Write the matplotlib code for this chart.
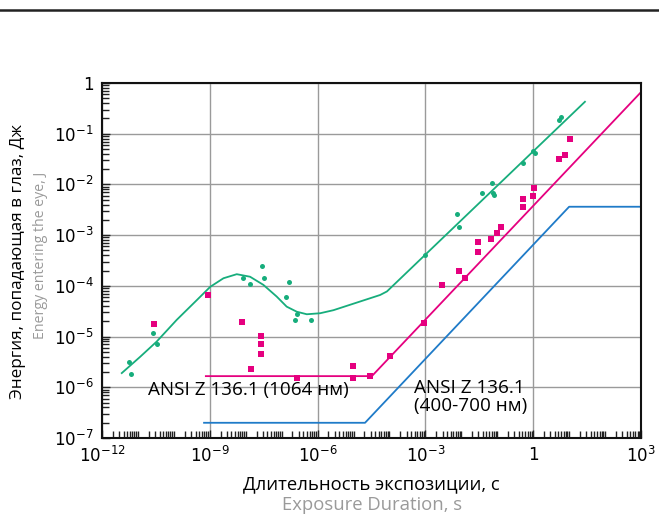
import numpy as np
import matplotlib
matplotlib.use('Agg')
import matplotlib.pyplot as plt
from matplotlib.ticker import FixedLocator, FuncFormatter, NullFormatter
from matplotlib.lines import Line2D

# all values stored as log10 exponents (x: exposure, s; y: energy, J)
green_curve_x = [-11.45, -10.94, -10.48, -9.92, -9.36, -8.99, -8.62, -8.25, -7.88, -7.51,
                 -7.14, -6.86, -6.58, -6.30, -5.93, -5.56, -4.91, -4.26, -4.07, 1.44]
green_curve_y = [-5.72, -5.40, -5.10, -4.67, -4.28, -4.02, -3.85, -3.77, -3.82, -3.98,
                 -4.21, -4.41, -4.51, -4.56, -4.54, -4.48, -4.33, -4.18, -4.11, -0.37]

ansi_1064_x = [-9.11, -4.49, 3.0]
ansi_1064_y = [-5.78, -5.78, -0.18]

ansi_vis_x = [-9.16, -4.68, 1.0, 3.0]
ansi_vis_y = [-6.70, -6.70, -2.44, -2.44]

green_pts_x = [-11.25, -11.19, -10.57, -10.48, -8.07, -7.87, -7.56, -7.50, -6.80, -6.89,
               -6.58, -6.62, -6.19, -3.01, -2.11, -2.06, -1.42, -1.15, -1.13, -1.09,
               -0.27, -0.01, 0.04, 0.72, 0.76]
green_pts_y = [-5.50, -5.73, -4.92, -5.15, -3.84, -3.97, -3.60, -3.84, -3.92, -4.22,
               -4.56, -4.67, -4.67, -3.39, -2.59, -2.83, -2.16, -1.97, -2.16, -2.21,
               -1.58, -1.35, -1.39, -0.72, -0.68]

pink_pts_x = [-10.54, -9.04, -8.10, -7.57, -7.57, -7.57, -7.84, -6.56, -5.01, -5.01,
              -4.54, -3.98, -3.03, -2.53, -2.06, -1.89, -1.53, -1.53, -1.17, -1.00,
              -0.89, -0.27, -0.27, 0.00, 0.03, 0.73, 0.89, 1.03]
pink_pts_y = [-4.76, -4.18, -4.72, -4.98, -5.15, -5.35, -5.63, -5.82, -5.59, -5.82,
              -5.78, -5.39, -4.74, -3.99, -3.71, -3.85, -3.34, -3.14, -3.08, -2.96,
              -2.83, -2.29, -2.45, -2.23, -2.08, -1.50, -1.41, -1.11]

GREEN = '#17ad7c'
PINK = '#e5007f'
BLUE = '#1f7bc8'
GREY = '#9a9a9a'

def p10(v):
    return 10.0 ** np.array(v)

fig = plt.figure(figsize=(6.59, 5.19), dpi=100)
ax = fig.add_axes([102/659, 1 - 438/519, 539/659, 355/519])

ax.plot(p10(green_curve_x), p10(green_curve_y), color=GREEN, lw=1.3)
ax.plot(p10(ansi_1064_x), p10(ansi_1064_y), color=PINK, lw=1.3)
ax.plot(p10(ansi_vis_x), p10(ansi_vis_y), color=BLUE, lw=1.3)
ax.plot(p10(green_pts_x), p10(green_pts_y), 'o', color=GREEN, ms=3.6, mew=0)
ax.plot(p10(pink_pts_x), p10(pink_pts_y), 's', color=PINK, ms=4.4, mew=0)

ax.set_xscale('log')
ax.set_yscale('log')
ax.set_xlim(1e-12, 1e3)
ax.set_ylim(1e-7, 1)

xmaj = [10.0 ** e for e in range(-12, 4, 3)]
ymaj = [10.0 ** e for e in range(-7, 1)]
xmin = [m * 10.0 ** e for e in range(-12, 3) for m in range(1, 10) if not (m == 1 and e % 3 == 0)]
ymin = [m * 10.0 ** e for e in range(-7, 0) for m in range(2, 10)]

def fmt(v, pos):
    e = int(round(np.log10(v)))
    return '1' if e == 0 else r'$10^{%d}$' % e

ax.xaxis.set_major_locator(FixedLocator(xmaj))
ax.xaxis.set_minor_locator(FixedLocator(xmin))
ax.yaxis.set_major_locator(FixedLocator(ymaj))
ax.yaxis.set_minor_locator(FixedLocator(ymin))
ax.xaxis.set_major_formatter(FuncFormatter(fmt))
ax.yaxis.set_major_formatter(FuncFormatter(fmt))
ax.xaxis.set_minor_formatter(NullFormatter())
ax.yaxis.set_minor_formatter(NullFormatter())

ax.tick_params(which='both', direction='in', top=False, right=False, labelsize=12, color='#222222')
ax.tick_params(which='major', length=6, width=1, pad=6)
ax.tick_params(which='minor', length=5, width=1)
ax.grid(True, which='major', color=GREY, lw=1)
ax.set_axisbelow(True)
for s in ax.spines.values():
    s.set_linewidth(1.5)
    s.set_color('#111111')

ax.text(10 ** -10.72, 10 ** -6.05, 'ANSI Z 136.1 (1064 нм)', family='Open Sans', fontsize=13.6,
        ha='left', va='center')
ax.text(10 ** -3.32, 10 ** -6.19, 'ANSI Z 136.1\n(400-700 нм)', family='Open Sans', fontsize=13.6,
        ha='left', va='center', linespacing=1.05)

fig.text(18/659, 1 - 262/519, 'Энергия, попадающая в глаз, Дж', rotation=90, ha='center', va='center',
         family='Open Sans', fontsize=12.3)
fig.text(41/659, 1 - 255/519, 'Energy entering the eye, J', rotation=90, ha='center', va='center',
         family='Open Sans', fontsize=10.2, color=GREY)
fig.text(371/659, 1 - 484/519, 'Длительность экспозиции, с', ha='center', va='center',
         family='Open Sans', fontsize=13.3)
fig.text(372/659, 1 - 505/519, 'Exposure Duration, s', ha='center', va='center',
         family='Open Sans', fontsize=13.3, color=GREY)

fig.add_artist(Line2D([0, 1], [1 - 10/519, 1 - 10/519], color='#222222', lw=1.8, transform=fig.transFigure))

fig.savefig('out.png', dpi=100)
